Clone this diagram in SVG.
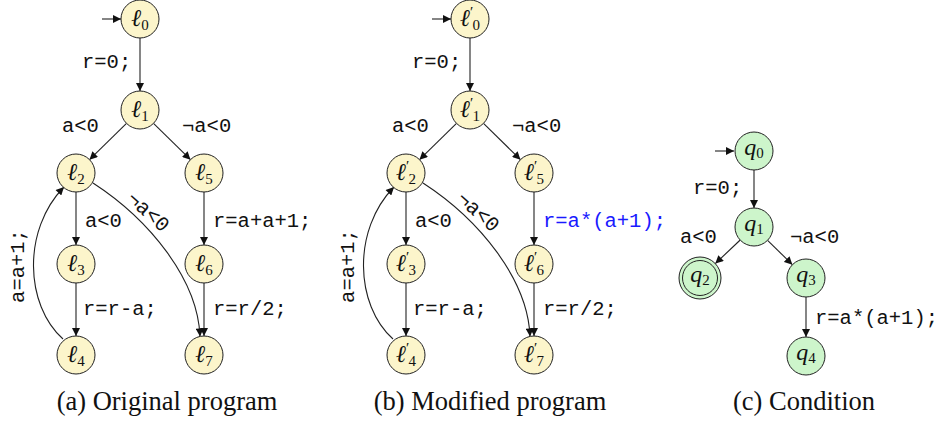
<svg xmlns="http://www.w3.org/2000/svg" width="943" height="424" viewBox="0 0 943 424">
<style>
.n{fill:#fcf5cb;stroke:#222;stroke-width:1}
.g{fill:#cdf5cb;stroke:#222;stroke-width:1}
.lb{font-family:"Liberation Serif",serif;font-size:24px;font-style:italic;fill:#111;text-anchor:middle}
.sb{font-size:15px;font-style:normal}
.e{fill:none;stroke:#222;stroke-width:1.1;marker-end:url(#ah)}
.m{font-family:"Liberation Mono",monospace;font-size:20.5px;fill:#111}
.cap{font-family:"Liberation Serif",serif;font-size:26.5px;fill:#111;text-anchor:middle}
</style>
<defs>
<marker id="ah" viewBox="0 0 10 10" refX="10" refY="5" markerWidth="9" markerHeight="8" orient="auto" markerUnits="userSpaceOnUse">
<path d="M0,0 L10,5 L0,10 z" fill="#111"/>
</marker>
</defs>
<g id="connectors">
<path class="e" d="M102,19 L121,19"/>
<path class="e" d="M140,38 L140,91"/>
<path class="e" d="M126.5,123.3 L89.5,159.7"/>
<path class="e" d="M153.5,123.3 L190.5,159.7"/>
<path class="e" d="M76,192 L76,245"/>
<path class="e" d="M204,192 L204,245"/>
<path class="e" d="M76,283 L76,336"/>
<path class="e" d="M204,283 L204,336"/>
<path class="e" d="M93,183 C150,220 198,280 200,336.5"/>
<path class="e" d="M63,339 C25,305 22,230 64,187"/>
<path class="e" d="M432,19 L451,19"/>
<path class="e" d="M470,38 L470,91"/>
<path class="e" d="M456.5,123.3 L419.5,159.7"/>
<path class="e" d="M483.5,123.3 L520.5,159.7"/>
<path class="e" d="M406,192 L406,245"/>
<path class="e" d="M534,192 L534,245"/>
<path class="e" d="M406,283 L406,336"/>
<path class="e" d="M534,283 L534,336"/>
<path class="e" d="M423,183 C480,220 528,280 530,336.5"/>
<path class="e" d="M393,339 C355,305 352,230 394,187"/>
<path class="e" d="M715,151 L734,151"/>
<path class="e" d="M754,170 L754,208"/>
<path class="e" d="M740.2,240 L715.3,263.6"/>
<path class="e" d="M767.6,240.3 L792.4,264.7"/>
<path class="e" d="M806,297 L806,337"/>
</g>
<g id="labels-a">
<text class="m" x="82" y="68">r=0;</text>
<text class="m" x="62" y="132">a&lt;0</text>
<text class="m" x="182" y="132">¬a&lt;0</text>
<text class="m" x="85" y="227">a&lt;0</text>
<text class="m" x="213" y="227">r=a+a+1;</text>
<text class="m" x="83" y="315">r=r-a;</text>
<text class="m" x="213" y="315">r=r/2;</text>
<text class="m" text-anchor="middle" transform="translate(148,212) rotate(42)" y="6">¬a&lt;0</text>
<text class="m" text-anchor="middle" transform="translate(24,266) rotate(-90)">a=a+1;</text>
</g>
<g id="labels-b">
<text class="m" x="412" y="68">r=0;</text>
<text class="m" x="392" y="132">a&lt;0</text>
<text class="m" x="512" y="132">¬a&lt;0</text>
<text class="m" x="415" y="227">a&lt;0</text>
<text class="m" x="543" y="227" style="fill:#1a1aff">r=a*(a+1);</text>
<text class="m" x="413" y="315">r=r-a;</text>
<text class="m" x="543" y="315">r=r/2;</text>
<text class="m" text-anchor="middle" transform="translate(478,212) rotate(42)" y="6">¬a&lt;0</text>
<text class="m" text-anchor="middle" transform="translate(354,266) rotate(-90)">a=a+1;</text>
</g>
<g id="labels-c">
<text class="m" x="693" y="194">r=0;</text>
<text class="m" x="680" y="243">a&lt;0</text>
<text class="m" x="790" y="243">¬a&lt;0</text>
<text class="m" x="815" y="324">r=a*(a+1);</text>
</g>
<g id="l0"><circle class="n" cx="140" cy="19" r="19"/><text class="lb" x="140" y="26">ℓ<tspan class="sb" dy="4">0</tspan></text></g>
<g id="l1"><circle class="n" cx="140" cy="110" r="19"/><text class="lb" x="140" y="117">ℓ<tspan class="sb" dy="4">1</tspan></text></g>
<g id="l2"><circle class="n" cx="76" cy="173" r="19"/><text class="lb" x="76" y="180">ℓ<tspan class="sb" dy="4">2</tspan></text></g>
<g id="l5"><circle class="n" cx="204" cy="173" r="19"/><text class="lb" x="204" y="180">ℓ<tspan class="sb" dy="4">5</tspan></text></g>
<g id="l3"><circle class="n" cx="76" cy="264" r="19"/><text class="lb" x="76" y="271">ℓ<tspan class="sb" dy="4">3</tspan></text></g>
<g id="l6"><circle class="n" cx="204" cy="264" r="19"/><text class="lb" x="204" y="271">ℓ<tspan class="sb" dy="4">6</tspan></text></g>
<g id="l4"><circle class="n" cx="76" cy="355" r="19"/><text class="lb" x="76" y="362">ℓ<tspan class="sb" dy="4">4</tspan></text></g>
<g id="l7"><circle class="n" cx="204" cy="355" r="19"/><text class="lb" x="204" y="362">ℓ<tspan class="sb" dy="4">7</tspan></text></g>
<g id="m0"><circle class="n" cx="470" cy="19" r="19"/><text class="lb" x="470" y="26">ℓ<tspan class="sb" dy="-9">′</tspan><tspan class="sb" dx="-1" dy="13">0</tspan></text></g>
<g id="m1"><circle class="n" cx="470" cy="110" r="19"/><text class="lb" x="470" y="117">ℓ<tspan class="sb" dy="-9">′</tspan><tspan class="sb" dx="-1" dy="13">1</tspan></text></g>
<g id="m2"><circle class="n" cx="406" cy="173" r="19"/><text class="lb" x="406" y="180">ℓ<tspan class="sb" dy="-9">′</tspan><tspan class="sb" dx="-1" dy="13">2</tspan></text></g>
<g id="m5"><circle class="n" cx="534" cy="173" r="19"/><text class="lb" x="534" y="180">ℓ<tspan class="sb" dy="-9">′</tspan><tspan class="sb" dx="-1" dy="13">5</tspan></text></g>
<g id="m3"><circle class="n" cx="406" cy="264" r="19"/><text class="lb" x="406" y="271">ℓ<tspan class="sb" dy="-9">′</tspan><tspan class="sb" dx="-1" dy="13">3</tspan></text></g>
<g id="m6"><circle class="n" cx="534" cy="264" r="19"/><text class="lb" x="534" y="271">ℓ<tspan class="sb" dy="-9">′</tspan><tspan class="sb" dx="-1" dy="13">6</tspan></text></g>
<g id="m4"><circle class="n" cx="406" cy="355" r="19"/><text class="lb" x="406" y="362">ℓ<tspan class="sb" dy="-9">′</tspan><tspan class="sb" dx="-1" dy="13">4</tspan></text></g>
<g id="m7"><circle class="n" cx="534" cy="355" r="19"/><text class="lb" x="534" y="362">ℓ<tspan class="sb" dy="-9">′</tspan><tspan class="sb" dx="-1" dy="13">7</tspan></text></g>
<g id="q0"><circle class="g" cx="754" cy="151" r="19"/><text class="lb" x="754" y="155">q<tspan class="sb" dy="3">0</tspan></text></g>
<g id="q1"><circle class="g" cx="754" cy="227" r="19"/><text class="lb" x="754" y="231">q<tspan class="sb" dy="3">1</tspan></text></g>
<g id="q2"><circle class="g" cx="700" cy="278" r="21"/><circle cx="700" cy="278" r="17.5" fill="none" stroke="#222" stroke-width="1"/><text class="lb" x="700" y="282">q<tspan class="sb" dy="3">2</tspan></text></g>
<g id="q3"><circle class="g" cx="806" cy="278" r="19"/><text class="lb" x="806" y="282">q<tspan class="sb" dy="3">3</tspan></text></g>
<g id="q4"><circle class="g" cx="806" cy="356" r="19"/><text class="lb" x="806" y="360">q<tspan class="sb" dy="3">4</tspan></text></g>
<g id="captions">
<text class="cap" x="167" y="410">(a) Original program</text>
<text class="cap" x="490" y="410">(b) Modified program</text>
<text class="cap" x="804" y="410">(c) Condition</text>
</g>
</svg>
